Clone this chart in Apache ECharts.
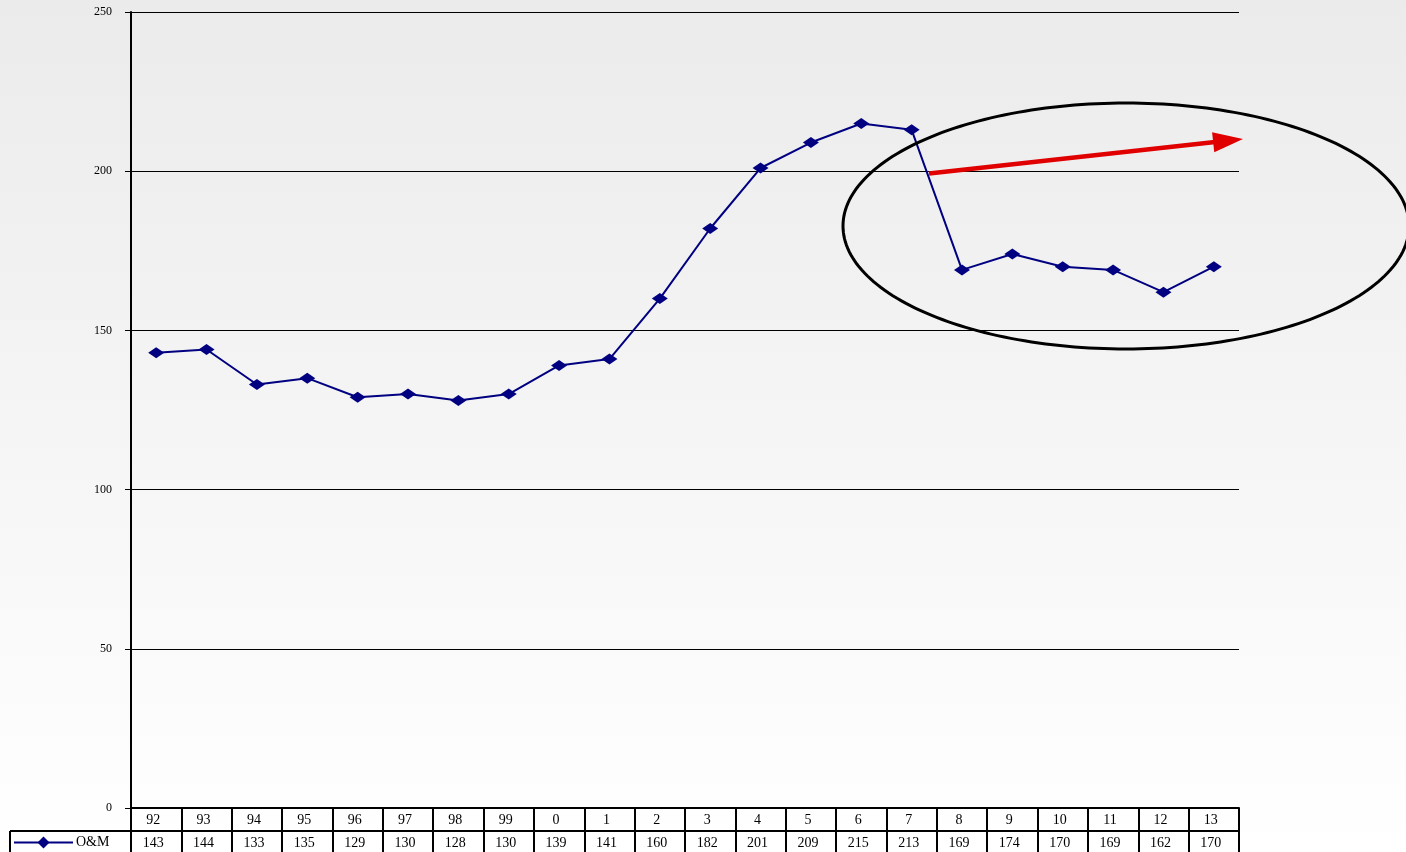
<!DOCTYPE html>
<html>
<head>
<meta charset="utf-8">
<script src="https://cdn.jsdelivr.net/npm/echarts@6/dist/echarts.min.js"></script>
<style>
html,body{margin:0;padding:0;}
#chart{width:1406px;height:852px;}
</style>
</head>
<body>
<div id="chart"></div>
<script>
const categories = ['92','93','94','95','96','97','98','99','0','1','2','3','4','5','6','7','8','9','10','11','12','13'];
const omValues = [143,144,133,135,129,130,128,130,139,141,160,182,201,209,215,213,169,174,170,169,162,170];
const seriesName = 'O&M';
const yTicks = { min: 0, max: 250, interval: 50 };

const FONT = '"Liberation Serif", "Times New Roman", serif';
const chart = echarts.init(document.getElementById('chart'));

// ellipse annotation outline (pixel-space shape)
const ell = { cx: 1126, cy: 226, rx: 283, ry: 123 };
const ellPts = [];
for (let i = 0; i <= 240; i++) {
  const t = i / 240 * Math.PI * 2;
  ellPts.push([ell.cx + ell.rx * Math.cos(t), ell.cy + ell.ry * Math.sin(t)]);
}
// arrow annotation
const arrowFrom = [929, 173.5], arrowTip = [1243, 139];
const dx = arrowTip[0] - arrowFrom[0], dy = arrowTip[1] - arrowFrom[1];
const len = Math.sqrt(dx*dx + dy*dy), ux = dx/len, uy = dy/len;
const headLen = 30, headW = 10;
const bx = arrowTip[0] - ux*headLen, by = arrowTip[1] - uy*headLen;
const headPts = [arrowTip, [bx - uy*headW, by + ux*headW], [bx + uy*headW, by - ux*headW]];

chart.setOption({
  backgroundColor: {
    type: 'linear', x: 0, y: 0, x2: 0, y2: 1,
    colorStops: [{offset: 0, color: '#ebebeb'}, {offset: 1, color: '#ffffff'}]
  },
  animation: false,
  textStyle: { fontFamily: FONT },
  grid: { left: 131, right: 167, top: 12, bottom: 44, containLabel: false },
  legend: {
    left: 13, top: 835.5, itemWidth: 59, itemHeight: 15, itemGap: 0,
    padding: 0,
    textStyle: { fontFamily: FONT, fontSize: 14, color: '#000', padding: [0,0,0,-2] },
    data: [seriesName]
  },
  xAxis: [{
    type: 'category', data: categories, position: 'bottom', boundaryGap: true,
    axisLine: { show: true, lineStyle: { color: '#000', width: 2 } },
    axisTick: { show: true, interval: 0, length: 23, lineStyle: { color: '#000', width: 2 } },
    axisLabel: { interval: 0, margin: 5, fontFamily: FONT, fontSize: 14, color: '#000', padding: [0, 6, 0, 0] },
    splitLine: { show: false }
  }, {
    type: 'category', data: categories, position: 'bottom', offset: 23, boundaryGap: true,
    axisLine: { show: true, lineStyle: { color: '#000', width: 2 } },
    axisTick: { show: true, interval: 0, length: 22, lineStyle: { color: '#000', width: 2 } },
    axisLabel: { interval: 0, margin: 5, fontFamily: FONT, fontSize: 14, color: '#000', padding: [0, 6, 0, 0],
      formatter: (v, i) => String(omValues[i]) },
    splitLine: { show: false }
  }],
  yAxis: {
    type: 'value', min: yTicks.min, max: yTicks.max, interval: yTicks.interval,
    axisLine: { show: true, lineStyle: { color: '#000', width: 2 } },
    axisTick: { show: true, length: 6, lineStyle: { color: '#000', width: 1 } },
    axisLabel: { margin: 19, fontFamily: FONT, fontSize: 12, color: '#000' },
    splitLine: { show: true, lineStyle: { color: '#000', width: 1 } }
  },
  series: [{
    name: seriesName, type: 'line', xAxisIndex: 0, data: omValues,
    symbol: 'diamond', symbolSize: [16, 11], showSymbol: true,
    lineStyle: { color: '#000080', width: 2 },
    itemStyle: { color: '#000080' },
    z: 5
  }],
  graphic: [
    { type: 'line', shape: { x1: 10, y1: 831, x2: 131, y2: 831 }, style: { stroke: '#000', lineWidth: 2 }, z: 10 },
    { type: 'line', shape: { x1: 10, y1: 831, x2: 10, y2: 852 }, style: { stroke: '#000', lineWidth: 2 }, z: 10 },
    { type: 'polyline', shape: { points: ellPts }, style: { stroke: '#000', lineWidth: 3, fill: null }, z: 20 },
    { type: 'line', shape: { x1: arrowFrom[0], y1: arrowFrom[1], x2: bx + ux*2, y2: by + uy*2 }, style: { stroke: '#e00000', lineWidth: 4.5 }, z: 21 },
    { type: 'polygon', shape: { points: headPts }, style: { fill: '#e00000' }, z: 21 }
  ]
});
</script>
</body>
</html>
